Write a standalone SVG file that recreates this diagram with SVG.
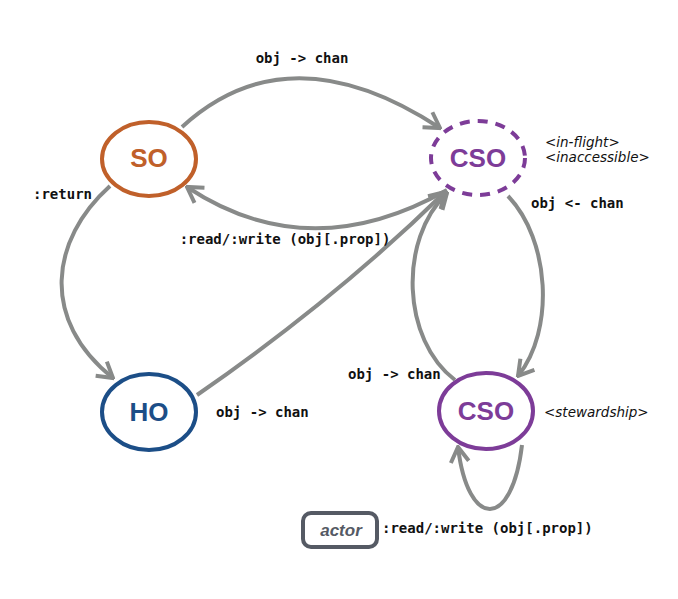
<svg xmlns="http://www.w3.org/2000/svg" width="678" height="599" viewBox="0 0 678 599">
<style>
.edge{fill:none;stroke:#888a89;stroke-width:4;marker-end:url(#arr)}
.lbl{font-family:"DejaVu Sans Mono","Liberation Mono",monospace;font-weight:bold;font-size:14px;fill:#111}
.ann{font-family:"DejaVu Sans","Liberation Sans",sans-serif;font-style:italic;font-size:13.5px;fill:#111}
.nt{font-family:"Liberation Sans",Arial,sans-serif;font-weight:bold;font-size:26px;text-anchor:middle}
.node{fill:#fff;stroke-width:4}
</style>
<defs>
<marker id="arr" viewBox="-18 -11 20 22" markerWidth="20" markerHeight="22" refX="0" refY="0" orient="auto" markerUnits="userSpaceOnUse">
<path d="M-15,-9 L0,0 L-15,9" fill="none" stroke="#888a89" stroke-width="4"/>
</marker>
</defs>
<rect width="678" height="599" fill="#fff"/>
<g id="connectors">
<path class="edge" d="M182,127 Q289,29 440,128"/>
<path class="edge" d="M447,190 Q309,268 187,187"/>
<path class="edge" d="M110,186 C50,240 40,320 113,378"/>
<path class="edge" d="M197,395 Q337,298 445,192"/>
<path class="edge" d="M508,196 C550,240 555,330 518,376"/>
<path class="edge" d="M455,380 C402,340 398,240 447,193"/>
<path class="edge" d="M522,445 C512,530 468,530 458,447"/>
<text class="lbl" x="302" y="63" text-anchor="middle">obj -&gt; chan</text>
<text class="lbl" x="285" y="244" text-anchor="middle">:read/:write (obj[.prop])</text>
<text class="lbl" x="33" y="199">:return</text>
<text class="lbl" x="216" y="417">obj -&gt; chan</text>
<text class="lbl" x="531" y="208">obj &lt;- chan</text>
<text class="lbl" x="348" y="379">obj -&gt; chan</text>
<text class="lbl" x="382" y="533">:read/:write (obj[.prop])</text>
</g>
<g id="SO">
<ellipse class="node" cx="149" cy="159" rx="47" ry="37" stroke="#c0602a"/>
<text class="nt" x="149" y="167" fill="#c0602a">SO</text>
</g>
<g id="CSO-top">
<ellipse class="node" cx="478" cy="158" rx="47" ry="37" stroke="#7d3c98" stroke-width="4.5" stroke-dasharray="10 8"/>
<text class="nt" x="478" y="167" fill="#7d3c98">CSO</text>
<text class="ann" x="545" y="147">&lt;in-flight&gt;</text>
<text class="ann" x="545" y="162">&lt;inaccessible&gt;</text>
</g>
<g id="HO">
<ellipse class="node" cx="149" cy="412" rx="47" ry="38" stroke="#1c4e87"/>
<text class="nt" x="149" y="421" fill="#1c4e87">HO</text>
</g>
<g id="CSO-bottom">
<ellipse class="node" cx="486" cy="411" rx="47" ry="38" stroke="#7d3c98"/>
<text class="nt" x="486" y="420" fill="#7d3c98">CSO</text>
<text class="ann" x="544" y="417">&lt;stewardship&gt;</text>
</g>
<g id="actor">
<rect x="303" y="513" width="74" height="34" rx="8" fill="#fff" stroke="#555a64" stroke-width="4"/>
<text x="341" y="536" text-anchor="middle" font-family="Liberation Sans, Arial, sans-serif" font-style="italic" font-weight="bold" font-size="17" fill="#555a64">actor</text>
</g>
</svg>
